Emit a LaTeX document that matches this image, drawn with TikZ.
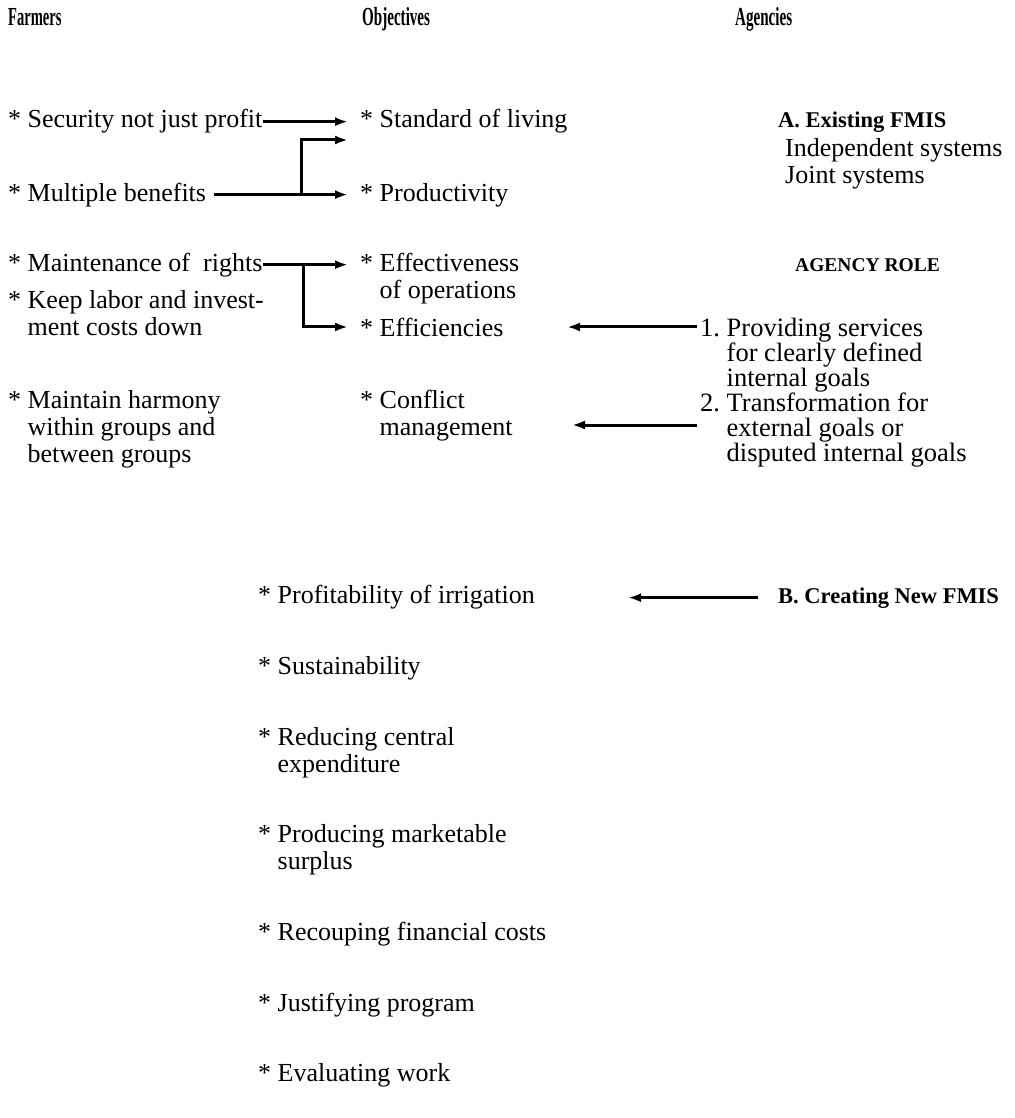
\documentclass[tikz,border=0pt]{standalone}
\usepackage{fontspec}
\setmainfont{Liberation Serif}
\usepackage{graphicx}
\usetikzlibrary{arrows.meta}

\begin{document}
\begin{tikzpicture}[x=1pt,y=-1pt,
  txt/.style={anchor=base west, inner sep=0pt, align=left,
    font=\fontsize{26}{27}\selectfont},
  agtxt/.style={txt, font=\fontsize{26.5}{25}\selectfont},
  hdr/.style={anchor=base west, inner sep=0pt,
    font=\fontsize{26}{27}\selectfont\bfseries},
  bld/.style={anchor=base west, inner sep=0pt,
    font=\fontsize{22.5}{27}\selectfont\bfseries},
  arr/.style={line width=3pt, -{Latex[length=13pt,width=9pt]}},
  ln/.style={line width=3pt}]
\useasboundingbox (0,0) rectangle (1014,1118);

% column headings
\node[hdr] (hfarm) at (8,26)   {\scalebox{0.56}[1]{Farmers}};
\node[hdr] (hobj)  at (362,26) {\scalebox{0.58}[1]{Objectives}};
\node[hdr] (hag)   at (735,26) {\scalebox{0.58}[1]{Agencies}};

% farmers (multi-line nodes sit on the baseline of their last line)
\node[txt] (sec)  at (8,128) {* Security not just profit};
\node[txt] (mb)   at (8,201) {* Multiple benefits};
\node[txt] (mr)   at (8,271) {* Maintenance of~ rights};
\node[txt] (kl)   at (8,335) {* Keep labor and invest-\\\hphantom{* }ment costs down};
\node[txt] (mh)   at (8,462) {* Maintain harmony\\\hphantom{* }within groups and\\\hphantom{* }between groups};

% objectives
\node[txt] (std)  at (360,128) {* Standard of living};
\node[txt] (prod) at (360,201) {* Productivity};
\node[txt] (eff)  at (360,298) {* Effectiveness\\\hphantom{* }of operations};
\node[txt] (effi) at (360,336) {* Efficiencies};
\node[txt] (conf) at (360,435) {* Conflict\\\hphantom{* }management};

\node[txt] (prof) at (258,603)  {* Profitability of irrigation};
\node[txt] (sust) at (258,674)  {* Sustainability};
\node[txt] (red)  at (258,772)  {* Reducing central\\\hphantom{* }expenditure};
\node[txt] (surp) at (258,869)  {* Producing marketable\\\hphantom{* }surplus};
\node[txt] (rec)  at (258,940)  {* Recouping financial costs};
\node[txt] (jus)  at (258,1011) {* Justifying program};
\node[txt] (ev)   at (258,1081) {* Evaluating work};

% agencies
\node[bld] (exist) at (778,128) {A. Existing FMIS};
\node[txt] (sys)   at (785,183) {Independent systems\\Joint systems};
\node[bld, font=\fontsize{19.5}{24}\selectfont\bfseries] (role) at (795,271) {AGENCY ROLE};
\node[agtxt] (p1) at (700,386) {1.\ Providing services\\\hphantom{1.\ }for clearly defined\\\hphantom{1.\ }internal goals};
\node[agtxt] (p2) at (700,461) {2.\ Transformation for\\\hphantom{2.\ }external goals or\\\hphantom{2.\ }disputed internal goals};
\node[bld] (new) at (778,603) {B. Creating New FMIS};

% arrow columns
\coordinate (tipL)  at (348,0);
\coordinate (brA)   at (301,0);
\coordinate (brB)   at (303,0);
\coordinate (upmid) at (348,140);
\coordinate (tipR1) at (567,0);
\coordinate (tipR2) at (572,425);
\coordinate (tipR3) at (628,0);

% farmers -> objectives
\draw[arr] (sec.east) -- (sec.east -| tipL);
\draw[arr] ([xshift=8pt]mb.east) -- (mb.east -| tipL);
\draw[arr] (mb.east -| brA) |- (upmid);
\draw[arr] (mr.east) -- (mr.east -| tipL);
\draw[arr] (mr.east -| brB) |- (effi.west -| tipL);

% agencies -> objectives
\draw[arr] ([xshift=-3pt]p1.base west |- effi.west) -- (effi.west -| tipR1);
\draw[arr] ([xshift=-3pt]p2.base west |- tipR2) -- (tipR2);
\draw[arr] ([xshift=-20pt]new.west) -- (new.west -| tipR3);
\end{tikzpicture}
\end{document}
